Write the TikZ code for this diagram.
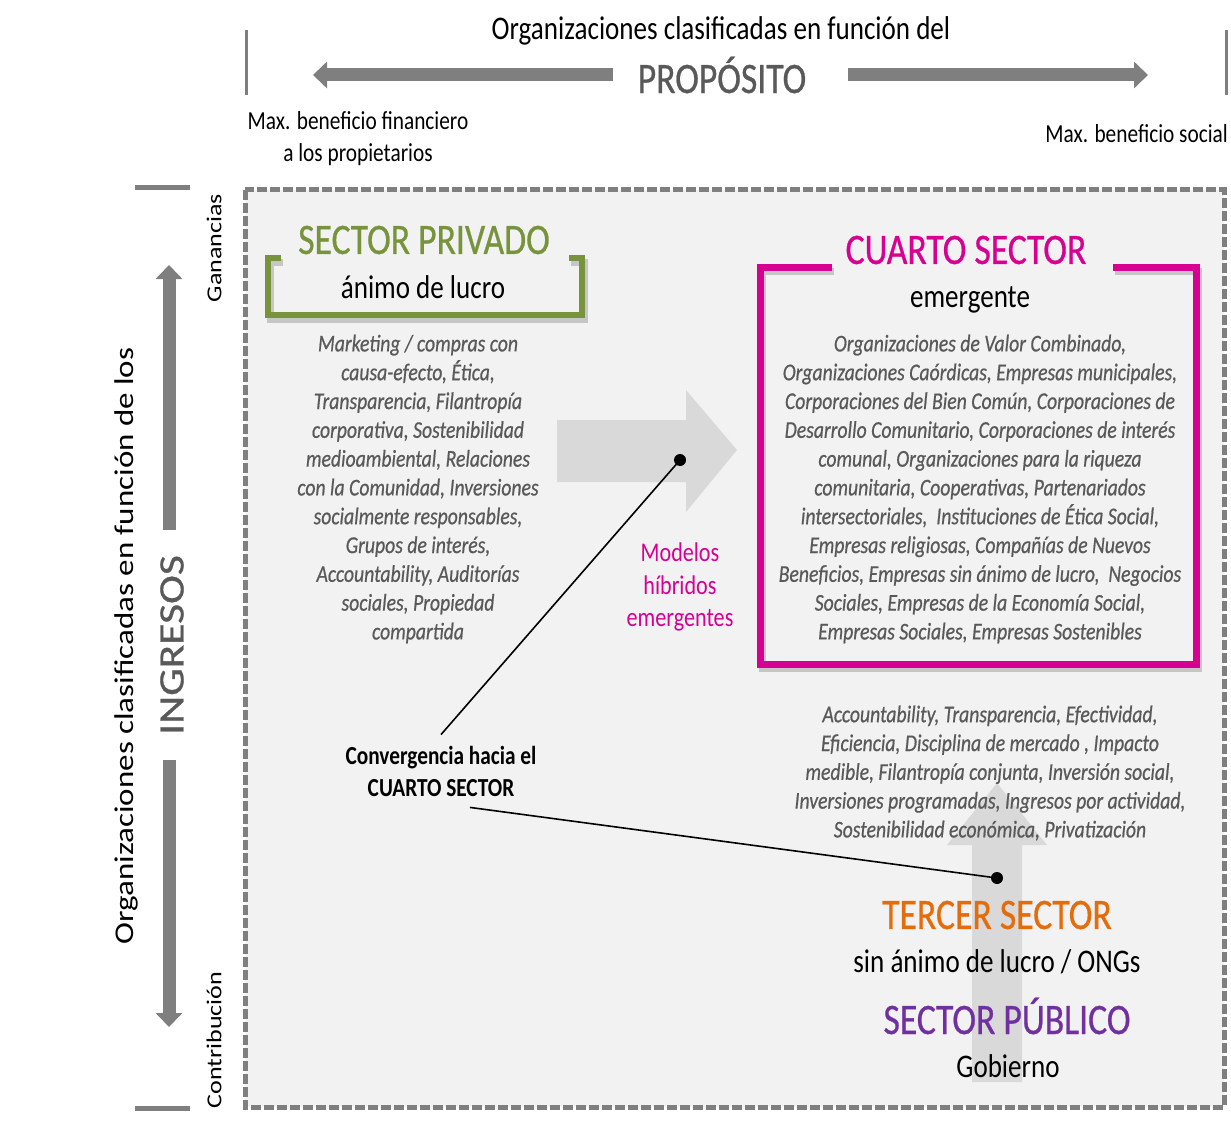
\documentclass[tikz,border=0pt]{standalone}
\usepackage{fontspec}
\usepackage{graphicx}
\setmainfont{Carlito}
\newfontfamily\heavyfont{Carlito}[FakeBold=0.7]
\usetikzlibrary{arrows.meta}

\definecolor{privgreen}{HTML}{77933C}
\definecolor{cuartomag}{HTML}{D60093}
\definecolor{tercerorange}{HTML}{E46C0A}
\definecolor{publpurple}{HTML}{7030A0}
\definecolor{axisgray}{HTML}{7F7F7F}
\definecolor{textgray}{HTML}{595959}
\definecolor{panelgray}{HTML}{F2F2F2}
\definecolor{arrowgray}{HTML}{D9D9D9}

\newcommand{\upward}[1]{\rotatebox{90}{#1}}

\begin{document}
\begin{tikzpicture}[x=1pt,y=-1pt,
  txt/.style={xscale=0.82,inner sep=0pt,align=center},
  headtxt/.style={txt,font=\heavyfont\fontsize{43.5}{48}\selectfont},
  bodytxt/.style={txt,font=\fontsize{33}{38}\selectfont},
  smalltxt/.style={txt,font=\fontsize{26}{32}\selectfont},
  midtxt/.style={txt,font=\fontsize{27}{32.5}\selectfont},
  listtxt/.style={txt,text=textgray,font=\heavyfont\fontsize{24}{28.8}\selectfont\itshape},
  axisarrow/.style={axisgray,line width=13pt,-{Triangle[length=14pt,width=26pt]}},
  sidebar/.style={axisgray,line width=5pt},
  bracketshadow/.style={black,opacity=0.18,line width=7pt,shift={(2,4)}},
  dotmark/.style={circle,fill=black,inner sep=0pt,minimum size=12pt},
  leader/.style={black,line width=1.6pt}]

\useasboundingbox (0,0) rectangle (1231,1126);

% panel
\filldraw[fill=panelgray,draw=axisgray,line width=5pt,dash pattern=on 10pt off 3pt]
  (245,190) rectangle (1224,1107);

% top axis
\draw[axisgray,line width=3pt] (246,30) -- (246,95);
\draw[axisgray,line width=3pt] (1226,30) -- (1226,95);
\node[bodytxt] (topline) at (721,31) {Organizaciones clasificadas en función del};
\node[headtxt,text=textgray,inner xsep=30pt] (propo) at (722,75) {PROPÓSITO};
\coordinate (pleft) at (313,75);
\coordinate (pright) at (1148,75);
\draw[axisarrow] (propo.west) -- (pleft);
\draw[axisarrow] ([xshift=17pt]propo.east) -- (pright);
\node[smalltxt] (maxfin) at (358,139) {Max. beneficio financiero\\a los propietarios};
\node[smalltxt,anchor=east] (maxsoc) at (1228,134) {Max. beneficio social};

% left axis
\draw[sidebar] (135,188) -- (190,188);
\draw[sidebar] (135,1108) -- (190,1108);
\node[bodytxt] (leftline) at (126,646) {\upward{Organizaciones clasificadas en función de los}};
\node[headtxt,text=textgray,inner ysep=25pt] (ingr) at (172,645) {\upward{INGRESOS}};
\coordinate (itop) at (169,265);
\coordinate (ibot) at (169,1027);
\draw[axisarrow] ([xshift=-3pt]ingr.north) -- (itop);
\draw[axisarrow] ([xshift=-3pt]ingr.south) -- (ibot);
\node[smalltxt] (ganan) at (214,248) {\upward{Ganancias}};
\node[smalltxt] (contrib) at (214,1040) {\upward{Contribución}};

% light arrows
\fill[arrowgray] (557,420) -- (686,420) -- (686,390) -- (737,450) -- (686,512) -- (686,482) -- (557,482) -- cycle;
\fill[arrowgray] (972,1082) -- (972,845) -- (947,845) -- (997,783) -- (1047,845) -- (1022,845) -- (1022,1082) -- cycle;

% private sector
\node[headtxt,text=privgreen] (privado) at (424,240) {SECTOR PRIVADO};
\draw[bracketshadow] (281,258) -- (268,258) -- (268,315) -- (582,315) -- (582,258) -- (569,258);
\draw[privgreen,line width=6pt] (281,258) -- (268,258) -- (268,315) -- (582,315) -- (582,258) -- (569,258);
\node[bodytxt] (lucro) at (423,287) {ánimo de lucro};
\node[listtxt] (privlist) at (418,489) {Marketing / compras con\\causa-efecto, Ética,\\Transparencia, Filantropía\\corporativa, Sostenibilidad\\medioambiental, Relaciones\\con la Comunidad, Inversiones\\socialmente responsables,\\Grupos de interés,\\Accountability, Auditorías\\sociales, Propiedad\\compartida};

% fourth sector
\node[headtxt,text=cuartomag] (cuarto) at (966,250) {CUARTO SECTOR};
\draw[bracketshadow] (832,267) -- (760,267) -- (760,664) -- (1196,664) -- (1196,267) -- (1113,267);
\draw[cuartomag,line width=7pt] (832,267) -- (760,267) -- (760,664) -- (1196,664) -- (1196,267) -- (1113,267);
\node[bodytxt] (emerg) at (970,300) {emergente};
\node[listtxt] (cuartolist) at (980,489) {Organizaciones de Valor Combinado,\\Organizaciones Caórdicas, Empresas municipales,\\Corporaciones del Bien Común, Corporaciones de\\Desarrollo Comunitario, Corporaciones de interés\\comunal, Organizaciones para la riqueza\\comunitaria, Cooperativas, Partenariados\\intersectoriales, \ Instituciones de Ética Social,\\Empresas religiosas, Compañías de Nuevos\\Beneficios, Empresas sin ánimo de lucro, \ Negocios\\Sociales, Empresas de la Economía Social,\\Empresas Sociales, Empresas Sostenibles};
\node[midtxt,text=cuartomag] (hibridos) at (680,587) {Modelos\\híbridos\\emergentes};

% third and public sector
\node[listtxt] (tercerlist) at (990,773) {Accountability, Transparencia, Efectividad,\\Eficiencia, Disciplina de mercado , Impacto\\medible, Filantropía conjunta, Inversión social,\\Inversiones programadas, Ingresos por actividad,\\Sostenibilidad económica, Privatización};
\node[headtxt,text=tercerorange] (tercer) at (997,915) {TERCER SECTOR};
\node[bodytxt] (ongs) at (997,962) {sin ánimo de lucro / ONGs};
\node[headtxt,text=publpurple] (publico) at (1007,1016) {SECTOR PÚBLICO};
\node[bodytxt] (gobierno) at (1008,1066) {Gobierno};

% convergence
\node[midtxt,font=\fontsize{26}{32}\selectfont\bfseries,inner sep=11pt] (conv) at (441,771) {Convergencia hacia el\\CUARTO SECTOR};
\node[dotmark] (hibdot) at (680,460) {};
\node[dotmark] (terdot) at (997,878) {};
\draw[leader] (conv.north) -- (hibdot.center);
\draw[leader] ([xshift=29pt]conv.south) -- (terdot.center);
\end{tikzpicture}
\end{document}
